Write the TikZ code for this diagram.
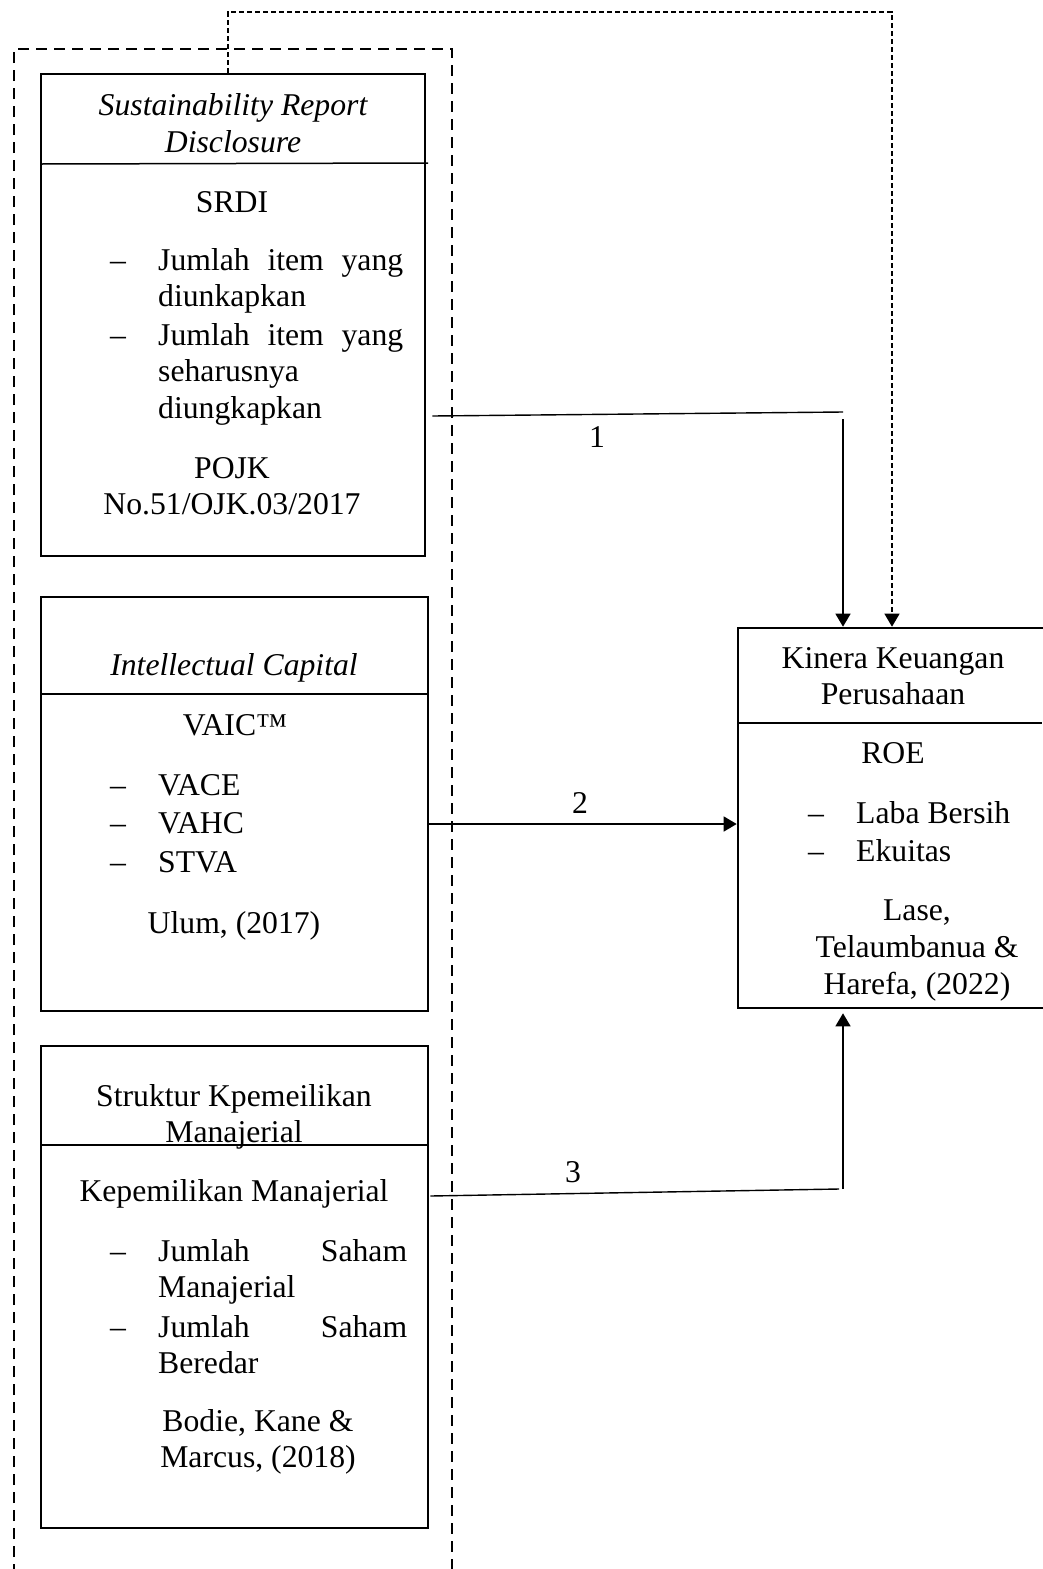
\documentclass[tikz,border=0pt]{standalone}
\usepackage{fontspec}
\setmainfont{Liberation Serif}
\usetikzlibrary{arrows.meta}
\hyphenpenalty=10000

\begin{document}
\begin{tikzpicture}[x=1pt, y=-1pt, >={Triangle[width=15pt,length=13pt]}]
\tikzset{txt/.style={inner sep=0pt, font=\fontsize{31.7}{36.7}\selectfont}}
\tikzset{itxt/.style={inner sep=0pt, font=\fontsize{31.7}{36.7}\selectfont\itshape}}
\tikzset{box/.style={draw, line width=2.6pt, inner sep=0pt}}
\tikzset{divider/.style={line width=1.5pt}}
\tikzset{conn/.style={line width=1.4pt}}
\tikzset{dotconn/.style={line width=1.2pt, dash pattern=on 5pt off 3pt}}
\tikzset{frame/.style={line width=2.5pt, dash pattern=on 11pt off 7pt}}
\useasboundingbox (0,0) rectangle (1042,1569);
\draw[frame] (14,1575) -- (14,49) -- (452,49) -- (452,1575);
\node[box, minimum width=384pt, minimum height=482pt] (srd) at (233,315) {};
\node[box, minimum width=387pt, minimum height=414pt] (ic) at (234.5,804) {};
\node[box, minimum width=387pt, minimum height=482pt] (km) at (234.5,1287) {};
\node[box, minimum width=306pt, minimum height=380pt] (kin) at (891,818) {};
\draw[divider] (41,164) -- (428,163);
\draw[divider] (41,694) -- (428,694);
\draw[divider] (41,1145) -- (428,1145);
\draw[divider] (738,723) -- (1042,723);
% box 1
\node[itxt, anchor=base, align=center] (srdh) at (233,152) {Sustainability Report\\Disclosure};
\node[txt, anchor=base] (srdi) at (232,212) {SRDI};
\node[txt, anchor=base west] (d11) at (110,270) {–};
\node[txt, anchor=base west, align=left] (i11) at (158,306.7) {\makebox[245pt][s]{Jumlah item yang}\\diunkapkan};
\node[txt, anchor=base west] (d12) at (110,345) {–};
\node[txt, anchor=base west, align=left] (i12) at (158,418.4) {\makebox[245pt][s]{Jumlah item yang}\\seharusnya\\diungkapkan};
\node[txt, anchor=base, align=center] (pojk) at (232,514.7) {POJK\\No.51/OJK.03/2017};
% box 2
\node[itxt, anchor=base] (ich) at (234,675) {Intellectual Capital};
\node[txt, anchor=base] (vaic) at (235,735) {VAIC™};
\node[txt, anchor=base west, align=left] (d2) at (110,872.4) {–\\[2pt]–\\[2pt]–};
\node[txt, anchor=base west, align=left] (i2) at (158,872.4) {VACE\\[2pt]VAHC\\[2pt]STVA};
\node[txt, anchor=base] (ulum) at (234,933) {Ulum, (2017)};
% box 3
\node[txt, anchor=base, align=center] (kmh) at (234,1142.7) {Struktur Kpemeilikan\\Manajerial};
\node[txt, anchor=base] (kmj) at (234,1201) {Kepemilikan Manajerial};
\node[txt, anchor=base west] (d31) at (110,1261) {–};
\node[txt, anchor=base west, align=left] (i31) at (158,1297.7) {\makebox[249pt][s]{Jumlah Saham}\\Manajerial};
\node[txt, anchor=base west] (d32) at (110,1337) {–};
\node[txt, anchor=base west, align=left] (i32) at (158,1373.7) {\makebox[249pt][s]{Jumlah Saham}\\Beredar};
\node[txt, anchor=base, align=center] (bodie) at (258,1467.7) {Bodie, Kane \&\\Marcus, (2018)};
% right box
\node[txt, anchor=base, align=center] (kinh) at (893,704.7) {Kinera Keuangan\\Perusahaan};
\node[txt, anchor=base] (roe) at (893,763) {ROE};
\node[txt, anchor=base west, align=left] (d4) at (808,861.7) {–\\[2pt]–};
\node[txt, anchor=base west, align=left] (i4) at (856,861.7) {Laba Bersih\\[2pt]Ekuitas};
\node[txt, anchor=base, align=center] (lase) at (917,994) {Lase,\\Telaumbanua \&\\Harefa, (2022)};
% connectors
\coordinate (j1) at (843,412);
\coordinate (j3) at (843,1189);
\coordinate (t1) at (228,12);
\coordinate (t2) at (892,12);
\draw[conn] ([xshift=6pt,yshift=-101pt]srd.east) -- (j1);
\draw[conn, ->] ([yshift=-7pt]j1) -- (kin.north -| j1);
\draw[conn, ->] ([yshift=-20pt]ic.east) -- ([yshift=-20pt]ic.east -| kin.west);
\draw[conn] ([xshift=1pt,yshift=91pt]km.east) -- ([xshift=-4pt]j3);
\draw[conn, ->] (j3) -- ([yshift=-4pt]kin.south -| j3);
\draw[dotconn, ->] (srd.north -| t1) -- (t1) -- (t2) -- (kin.north -| t2);
\node[txt, anchor=base] (n1) at (597,447) {1};
\node[txt, anchor=base] (n2) at (580,813) {2};
\node[txt, anchor=base] (n3) at (573,1182) {3};
\end{tikzpicture}
\end{document}
